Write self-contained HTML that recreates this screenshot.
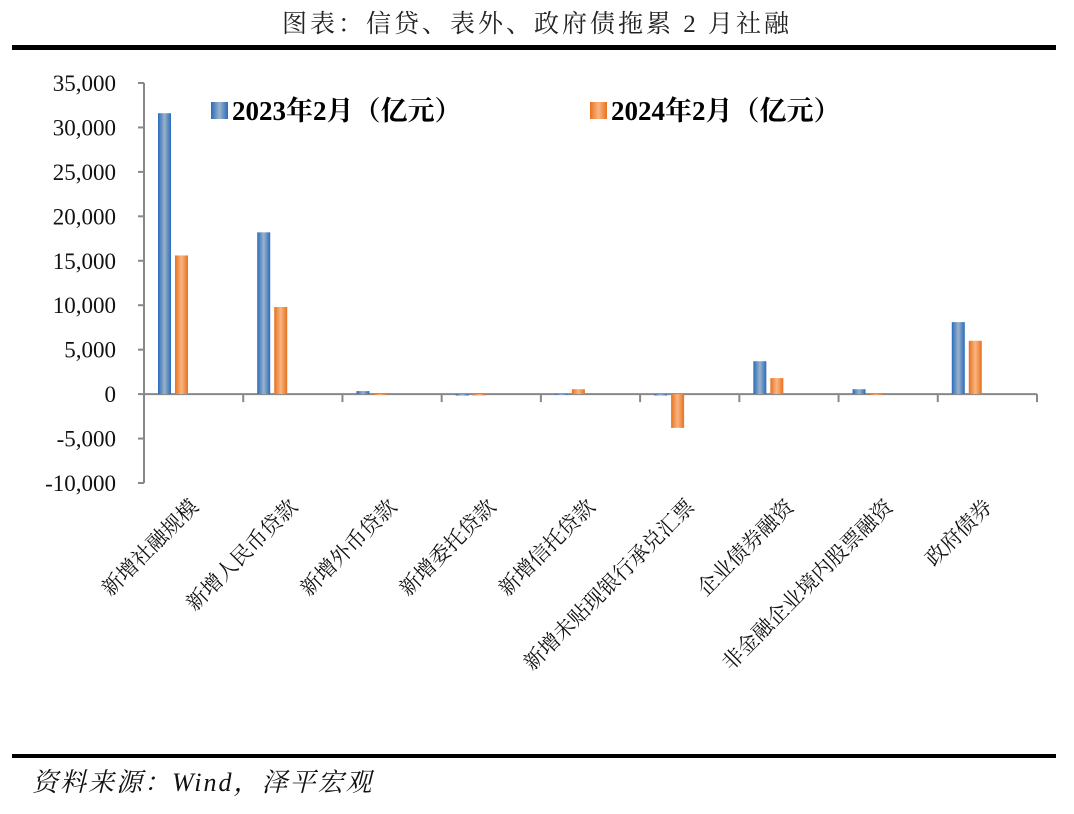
<!DOCTYPE html>
<html><head><meta charset="utf-8"><style>
body{margin:0;background:#fff;}
svg text{font-family:"Liberation Serif","Noto Serif CJK SC",serif;}
</style></head><body>
<svg id="chart" width="1074" height="809" viewBox="0 0 1074 809" xmlns="http://www.w3.org/2000/svg">
<defs>
<linearGradient id="gb" x1="0" x2="1" y1="0" y2="0"><stop offset="0" stop-color="#2a6bbd"/><stop offset="0.5" stop-color="#9ab3c9"/><stop offset="1" stop-color="#2a6bbd"/></linearGradient>
<linearGradient id="go" x1="0" x2="1" y1="0" y2="0"><stop offset="0" stop-color="#e8711f"/><stop offset="0.5" stop-color="#f9b681"/><stop offset="1" stop-color="#e8711f"/></linearGradient>
</defs>
<text x="537" y="32" text-anchor="middle" font-size="25" letter-spacing="3" fill="#222">图表：信贷、表外、政府债拖累 2 月社融</text>
<rect x="12" y="45" width="1044" height="5" fill="#000"/>
<rect x="12" y="754" width="1044" height="4" fill="#000"/>
<text x="32" y="791" font-size="26" letter-spacing="2" font-style="italic" fill="#111">资料来源：Wind，泽平宏观</text>
<g id="axes"></g><g id="bars"></g><g id="labels"></g>
<g>
<rect x="211" y="102" width="17" height="17" fill="url(#gb)"/>
<text x="232" y="120" font-size="27" font-weight="bold">2023年2月（亿元）</text>
<rect x="590" y="102" width="17" height="17" fill="url(#go)"/>
<text x="611" y="120" font-size="27" font-weight="bold">2024年2月（亿元）</text>
</g>
</svg>
<script>
const categories=["新增社融规模","新增人民币贷款","新增外币贷款","新增委托贷款","新增信托贷款","新增未贴现银行承兑汇票","企业债券融资","非金融企业境内股票融资","政府债券"];
const series2023=[31600,18200,340,-160,30,-150,3700,550,8100];
const series2024=[15600,9800,10,-150,550,-3800,1800,30,6000];
const yTicks=[35000,30000,25000,20000,15000,10000,5000,0,-5000,-10000];
const yMin=-10000,yMax=35000,plotTop=83,plotBot=483,plotLeft=144,plotRight=1037;
const NS="http://www.w3.org/2000/svg";
const y=v=>plotBot-(v-yMin)/(yMax-yMin)*(plotBot-plotTop);
const cw=(plotRight-plotLeft)/categories.length;
const x=i=>plotLeft+i*cw;
function mk(t,a,p){const e=document.createElementNS(NS,t);for(const k in a)e.setAttribute(k,a[k]);p.appendChild(e);return e;}
const ax=document.getElementById('axes'),bg=document.getElementById('bars'),lg=document.getElementById('labels');
const ya=mk('line',{x1:plotLeft,x2:plotLeft,y1:plotTop,y2:plotBot,stroke:'#888','stroke-width':2},ax);


yTicks.forEach(v=>{
 const t=mk('line',{x1:plotLeft-6,x2:plotLeft,y1:y(v),y2:y(v),stroke:'#888','stroke-width':2},ax);
 
 
 const l=mk('text',{x:plotLeft-28,y:y(v)+8,'text-anchor':'end','font-size':23,fill:'#111'},ax);
 l.textContent=v.toLocaleString('en-US');
 
 
});
const xa=mk('line',{x1:plotLeft,x2:plotRight,y1:y(0),y2:y(0),stroke:'#888','stroke-width':2},ax);


for(let i=1;i<=categories.length;i++){
 const t=mk('line',{x1:x(i),x2:x(i),y1:y(0),y2:y(0)+8,stroke:'#888','stroke-width':2},ax);
 
 
}
categories.forEach((c,i)=>{
 const bw=13;
 [[series2023,'url(#gb)',14,'bar-2023'],[series2024,'url(#go)',31,'bar-2024']].forEach(([s,f,off,n])=>{
  const v=s[i],y0=y(0),yv=y(v);
  const r=mk('rect',{x:x(i)+off,y:Math.min(y0,yv),width:bw,height:Math.max(1,Math.abs(yv-y0)),fill:f},bg);
  
  
 });
 const cx=x(i)+cw/2+6,cy=508;
 const t=mk('text',{x:cx,y:cy,'text-anchor':'end','font-size':21,fill:'#111',transform:`rotate(-45 ${cx} ${cy})`},lg);
 t.textContent=c;
 
 
});
</script>
</body></html>
